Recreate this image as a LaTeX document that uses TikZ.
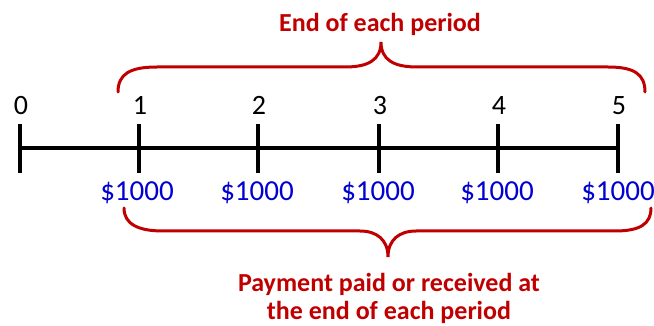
\documentclass[tikz,border=0pt]{standalone}
\usepackage{fontspec}
\setmainfont{Carlito}
\definecolor{bred}{RGB}{192,0,0}
\definecolor{dblue}{RGB}{0,0,210}
\tikzset{
  tick/.style={line width=4pt, black},
  axis/.style={line width=4pt, black},
  num/.style={anchor=base, inner sep=0pt, font=\fontsize{28}{30}\selectfont, text=black},
  money/.style={anchor=base, inner sep=0pt, font=\fontsize{29}{30}\selectfont, text=dblue},
  note/.style={anchor=base, inner sep=0pt, font=\bfseries\fontsize{26}{30}\selectfont, text=bred},
  brace/.style={line width=3pt, bred, line cap=round}
}
\begin{document}
\begin{tikzpicture}[x=1pt,y=-1pt]
\useasboundingbox (0,0) rectangle (654,326);
% tick positions
\foreach \i/\x in {0/20,1/139,2/258,3/379,4/498,5/618}{
  \coordinate (t\i) at (\x,148);
  \draw[tick] (\x,124) -- (\x,173);
  \node[num] (n\i) at (\x+1,115) {\i};
}
\draw[axis] (t0) -- (t5);
\foreach \i/\x in {1/137,2/257,3/378,4/497,5/618}{
  \node[money] (d\i) at (\x,201) {\$1000};
}
% top brace
\draw[brace] (118,92) .. controls (118,74) and (130,67) .. (157,67)
  -- (345,67) .. controls (368,67) and (381,60) .. (381,42)
  .. controls (381,60) and (394,67) .. (417,67)
  -- (608,67) .. controls (634,67) and (645,74) .. (645,92);
\node[note] (top) at (380,32) {End of each period};
% bottom brace
\draw[brace] (124,208) .. controls (124,224) and (138,231) .. (163,231)
  -- (360,231) .. controls (377,231) and (388,240) .. (388,257)
  .. controls (388,240) and (399,231) .. (416,231)
  -- (615,231) .. controls (640,231) and (651,224) .. (651,208);
\node[note] (bot1) at (389,291) {Payment paid or received at};
\node[note] (bot2) at (389,319) {the end of each period};
\end{tikzpicture}
\end{document}
